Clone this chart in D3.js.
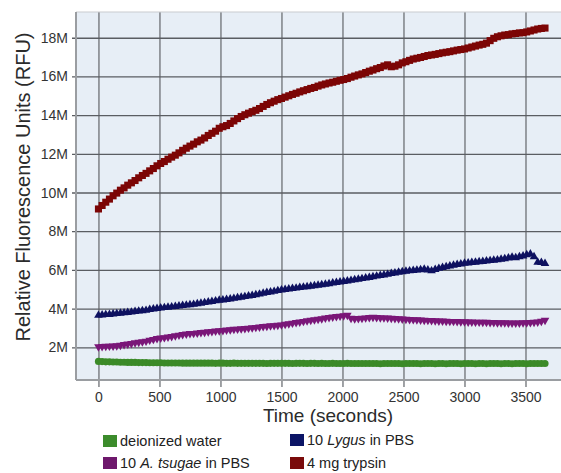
<!DOCTYPE html>
<html>
<head>
<meta charset="utf-8">
<script src="https://cdn.jsdelivr.net/npm/d3@7"></script>
<style>
  html, body { margin: 0; padding: 0; background: #ffffff; }
  svg { display: block; font-family: "Liberation Sans", Arial, sans-serif; }
</style>
</head>
<body>
<svg id="chart" width="561" height="473"></svg>
<script>
// Sampling interval (s) for the kinetic reads
const interval = 30;

// Relative fluorescence, in millions of RFU, one read every 30 s from 0 to 3660 s
const trypsin = [
  9.15, 9.33, 9.50, 9.66, 9.83, 9.97, 10.12, 10.24, 10.38, 10.50,
  10.62, 10.76, 10.88, 10.99, 11.12, 11.24, 11.38, 11.50, 11.60, 11.72,
  11.83, 11.93, 12.05, 12.18, 12.29, 12.40, 12.50, 12.62, 12.71, 12.82,
  12.95, 13.06, 13.17, 13.32, 13.40, 13.46, 13.57, 13.70, 13.82, 13.93,
  14.02, 14.10, 14.18, 14.25, 14.34, 14.45, 14.55, 14.64, 14.72, 14.80,
  14.86, 14.93, 15.00, 15.07, 15.13, 15.20, 15.26, 15.32, 15.38, 15.43,
  15.50, 15.56, 15.61, 15.66, 15.70, 15.75, 15.80, 15.84, 15.89, 15.96,
  16.02, 16.08, 16.13, 16.20, 16.27, 16.33, 16.40, 16.46, 16.54, 16.60,
  16.50, 16.53, 16.60, 16.70, 16.76, 16.83, 16.90, 16.94, 16.98, 17.03,
  17.08, 17.11, 17.14, 17.18, 17.22, 17.25, 17.28, 17.32, 17.36, 17.39,
  17.42, 17.47, 17.52, 17.57, 17.62, 17.66, 17.72, 17.85, 17.97, 18.05,
  18.10, 18.14, 18.16, 18.20, 18.22, 18.25, 18.26, 18.30, 18.35, 18.40,
  18.45, 18.48, 18.50
];

const lygus = [
  3.65, 3.67, 3.69, 3.70, 3.72, 3.74, 3.76, 3.78, 3.80, 3.82,
  3.85, 3.87, 3.89, 3.91, 3.95, 3.98, 4.01, 4.03, 4.05, 4.07,
  4.09, 4.11, 4.14, 4.16, 4.18, 4.20, 4.22, 4.25, 4.28, 4.31,
  4.34, 4.37, 4.40, 4.43, 4.45, 4.47, 4.50, 4.53, 4.56, 4.59,
  4.62, 4.65, 4.68, 4.72, 4.75, 4.79, 4.83, 4.86, 4.89, 4.93,
  4.96, 4.99, 5.01, 5.04, 5.06, 5.09, 5.11, 5.13, 5.16, 5.18,
  5.21, 5.23, 5.26, 5.29, 5.32, 5.35, 5.38, 5.40, 5.43, 5.46,
  5.49, 5.52, 5.55, 5.58, 5.61, 5.65, 5.68, 5.71, 5.74, 5.77,
  5.81, 5.84, 5.88, 5.91, 5.93, 5.95, 5.97, 5.99, 6.01, 6.03,
  6.00, 5.95, 6.02, 6.08, 6.12, 6.16, 6.20, 6.24, 6.28, 6.31,
  6.34, 6.36, 6.38, 6.40, 6.42, 6.44, 6.46, 6.48, 6.50, 6.52,
  6.55, 6.58, 6.62, 6.66, 6.63, 6.68, 6.72, 6.78, 6.82, 6.68,
  6.40, 6.38, 6.33
];

const tsugae = [
  2.03, 2.04, 2.05, 2.06, 2.07, 2.08, 2.11, 2.14, 2.17, 2.20,
  2.23, 2.26, 2.29, 2.32, 2.37, 2.41, 2.45, 2.48, 2.50, 2.53,
  2.56, 2.60, 2.63, 2.66, 2.69, 2.71, 2.72, 2.74, 2.76, 2.78,
  2.80, 2.82, 2.84, 2.86, 2.87, 2.89, 2.91, 2.93, 2.94, 2.96,
  2.97, 2.99, 3.01, 3.03, 3.05, 3.07, 3.09, 3.11, 3.12, 3.14,
  3.16, 3.19, 3.22, 3.25, 3.28, 3.31, 3.34, 3.37, 3.40, 3.42,
  3.45, 3.48, 3.51, 3.54, 3.57, 3.59, 3.61, 3.63, 3.66, 3.50,
  3.48, 3.49, 3.50, 3.52, 3.54, 3.55, 3.54, 3.53, 3.52, 3.51,
  3.50, 3.49, 3.48, 3.46, 3.45, 3.44, 3.43, 3.42, 3.41, 3.40,
  3.39, 3.38, 3.37, 3.36, 3.36, 3.35, 3.34, 3.34, 3.33, 3.32,
  3.32, 3.31, 3.31, 3.30, 3.30, 3.29, 3.29, 3.28, 3.28, 3.27,
  3.27, 3.27, 3.26, 3.26, 3.26, 3.26, 3.27, 3.27, 3.28, 3.29,
  3.31, 3.35, 3.40
];

const water = [
  1.27, 1.26, 1.25, 1.25, 1.24, 1.24, 1.23, 1.23, 1.22, 1.22,
  1.22, 1.21, 1.21, 1.21, 1.20, 1.20, 1.20, 1.20, 1.19, 1.19,
  1.19, 1.19, 1.19, 1.18, 1.18, 1.18, 1.18, 1.18, 1.18, 1.18,
  1.18, 1.18, 1.17, 1.18, 1.18, 1.17, 1.17, 1.18, 1.17, 1.17,
  1.17, 1.17, 1.17, 1.17, 1.17, 1.17, 1.16, 1.17, 1.17, 1.17,
  1.17, 1.17, 1.17, 1.16, 1.17, 1.17, 1.17, 1.16, 1.17, 1.17,
  1.16, 1.17, 1.16, 1.16, 1.17, 1.16, 1.16, 1.16, 1.17, 1.16,
  1.16, 1.16, 1.16, 1.16, 1.16, 1.16, 1.16, 1.15, 1.16, 1.16,
  1.16, 1.16, 1.16, 1.15, 1.16, 1.16, 1.16, 1.16, 1.15, 1.16,
  1.16, 1.16, 1.15, 1.16, 1.16, 1.15, 1.16, 1.16, 1.16, 1.15,
  1.16, 1.16, 1.16, 1.15, 1.16, 1.16, 1.15, 1.16, 1.16, 1.16,
  1.15, 1.16, 1.16, 1.15, 1.16, 1.16, 1.16, 1.15, 1.16, 1.16,
  1.16, 1.16, 1.16
];

// Axis ticks
const xTicks = [0, 500, 1000, 1500, 2000, 2500, 3000, 3500];
const yTicks = [2, 4, 6, 8, 10, 12, 14, 16, 18];
const yTickLabels = ["2M", "4M", "6M", "8M", "10M", "12M", "14M", "16M", "18M"];

// Series: name parts (italic segment in the middle), colour, marker
const seriesNames = ["deionized water", "10 A. tsugae in PBS", "10 Lygus in PBS", "4 mg trypsin"];
const legendParts = [
  ["deionized water", "", ""],
  ["10 ", "A. tsugae", " in PBS"],
  ["10 ", "Lygus", " in PBS"],
  ["4 mg trypsin", "", ""]
];
const seriesColors = ["#3b8a28", "#7a1678", "#0e1160", "#7c0505"];
const legendColors = ["#3c8c2c", "#6e186c", "#0c1566", "#7a0b0b"];

const series = [
  { name: seriesNames[3], values: trypsin, color: seriesColors[3], shape: "square" },
  { name: seriesNames[2], values: lygus,   color: seriesColors[2], shape: "triUp" },
  { name: seriesNames[1], values: tsugae,  color: seriesColors[1], shape: "triDown" },
  { name: seriesNames[0], values: water,   color: seriesColors[0], shape: "circle" }
];

const svg = d3.select("#chart");
const plot = { left: 76, right: 561, top: 12, bottom: 380 };

const x = d3.scaleLinear().domain([-184, 3791]).range([plot.left, plot.right]);
const y = d3.scaleLinear().domain([0.31, 19.33]).range([plot.bottom, plot.top]);

// Plot background
svg.append("rect")
  .attr("x", plot.left).attr("y", plot.top)
  .attr("width", plot.right - plot.left).attr("height", plot.bottom - plot.top)
  .attr("fill", "#e7eef6");

// Gridlines with outside ticks
const xAxis = d3.axisBottom(x).tickValues(xTicks)
  .tickSize(-(plot.bottom - plot.top) - 7).tickPadding(5).tickFormat(d3.format("d"));
const gx = svg.append("g").attr("transform", `translate(0,${plot.bottom + 7})`).call(xAxis);
gx.select(".domain").remove();
gx.selectAll(".tick line").attr("stroke", "#6d7075").attr("stroke-width", 1.3);
gx.selectAll(".tick text")
  .attr("fill", "#333").attr("font-size", 14).attr("font-family", "Liberation Sans, Arial, sans-serif");

const yAxis = d3.axisLeft(y).tickValues(yTicks)
  .tickSize(-(plot.right - plot.left) - 4).tickPadding(4)
  .tickFormat((d, i) => yTickLabels[i]);
const gy = svg.append("g").attr("transform", `translate(${plot.left - 4},0)`).call(yAxis);
gy.select(".domain").remove();
gy.selectAll(".tick line").attr("stroke", "#5a5d62").attr("stroke-width", 1.3);
gy.selectAll(".tick text")
  .attr("fill", "#333").attr("font-size", 14).attr("font-family", "Liberation Sans, Arial, sans-serif");

// Frame: light top edge, grey left and bottom edges
svg.append("line").attr("x1", plot.left).attr("x2", plot.right)
  .attr("y1", plot.top).attr("y2", plot.top).attr("stroke", "#c9ccd0").attr("stroke-width", 1.2);
svg.append("line").attr("x1", plot.left).attr("x2", plot.left)
  .attr("y1", plot.top).attr("y2", plot.bottom).attr("stroke", "#9a9da1").attr("stroke-width", 2);
svg.append("line").attr("x1", plot.left).attr("x2", plot.right)
  .attr("y1", plot.bottom).attr("y2", plot.bottom).attr("stroke", "#9a9da1").attr("stroke-width", 2);

// Markers
const symbols = {
  square: d3.symbol().type(d3.symbolSquare).size(50),
  triUp: d3.symbol().type(d3.symbolTriangle).size(32),
  triDown: d3.symbol().type(d3.symbolTriangle).size(32),
  circle: d3.symbol().type(d3.symbolCircle).size(40)
};

series.forEach(s => {
  const g = svg.append("g").attr("fill", s.color);
  g.selectAll("path")
    .data(s.values.map((v, i) => ({ t: i * interval, v })))
    .join("path")
    .attr("d", symbols[s.shape]())
    .attr("transform", d => `translate(${x(d.t)},${y(d.v)})` + (s.shape === "triDown" ? " rotate(180)" : ""));
});

// Axis titles
svg.append("text")
  .attr("x", 328).attr("y", 422)
  .attr("text-anchor", "middle")
  .attr("font-size", 19).attr("fill", "#2b2b2b")
  .text("Time (seconds)");

svg.append("text")
  .attr("transform", "translate(30,187) rotate(-90)")
  .attr("text-anchor", "middle")
  .attr("font-size", 20).attr("fill", "#2b2b2b")
  .text("Relative Fluorescence Units (RFU)");

// Legend
const legendPos = [
  { x: 103, y: 435 }, { x: 103, y: 457 },
  { x: 290, y: 434 }, { x: 290, y: 457 }
];
legendParts.forEach((parts, i) => {
  const p = legendPos[i];
  svg.append("rect").attr("x", p.x).attr("y", p.y).attr("width", 14).attr("height", 12)
    .attr("fill", legendColors[i]);
  const t = svg.append("text").attr("x", p.x + 17).attr("y", p.y + 11)
    .attr("font-size", 14.5).attr("fill", "#222");
  t.append("tspan").text(parts[0]);
  if (parts[1]) t.append("tspan").attr("font-style", "italic").text(parts[1]);
  if (parts[2]) t.append("tspan").text(parts[2]);
});
</script>
</body>
</html>
